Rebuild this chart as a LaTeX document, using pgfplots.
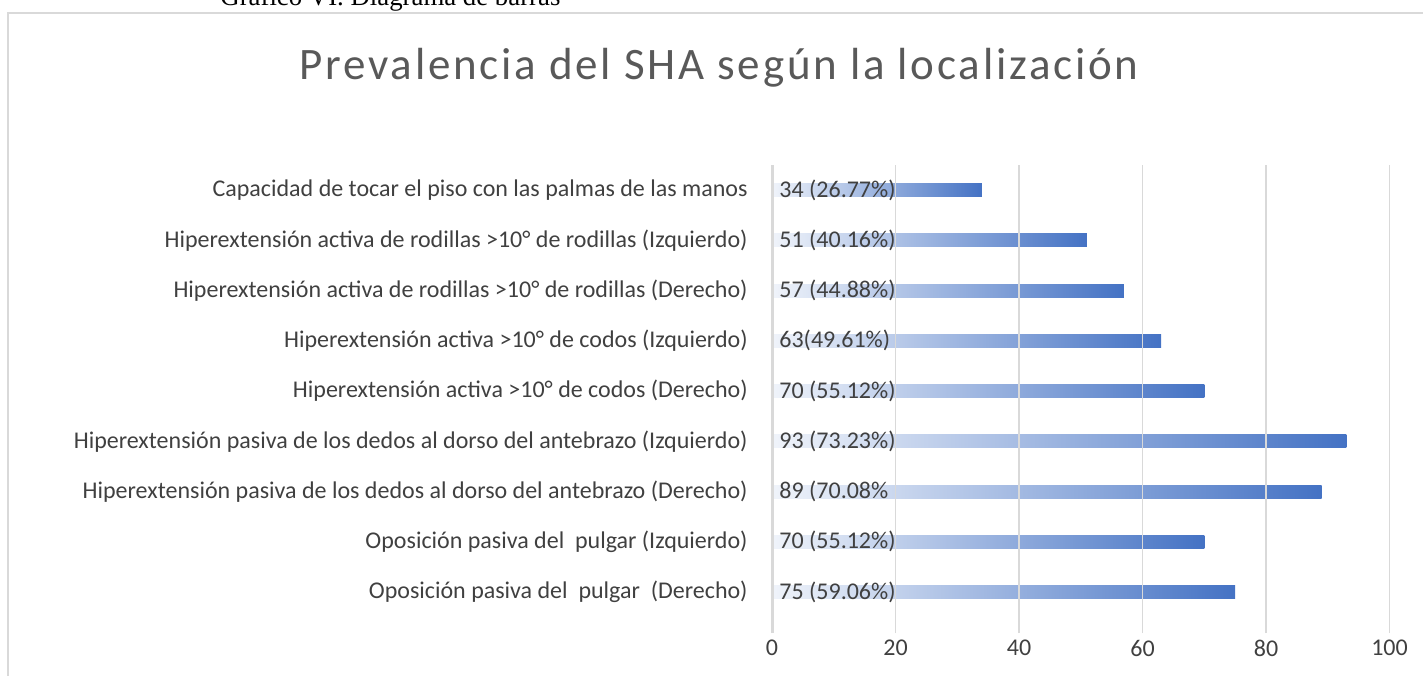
\documentclass[border=0pt]{standalone}
\usepackage{pgfplots}
\pgfplotsset{compat=1.18}
\usepackage{fontspec}
\setmainfont{Carlito}
\newfontfamily\seriffont{Liberation Serif}
\definecolor{barblue}{HTML}{4472C4}
\definecolor{txt}{HTML}{404040}
\definecolor{ttl}{HTML}{595959}
\definecolor{grd}{HTML}{D9D9D9}
\begin{document}
\begin{tikzpicture}[x=0.5pt,y=0.5pt]
\useasboundingbox (0,0) rectangle (1423,675);
\draw[grd, line width=1pt] (8,-20) -- (8,662) -- (1440,662);
\node[font=\seriffont\fontsize{13.4}{14}\selectfont, anchor=base west, inner sep=0] at (220,669) {Gráfico VI. Diagrama de barras};
\node[ttl, font=\fontsize{22.5}{24}\selectfont\addfontfeatures{LetterSpace=6.2}] at (719,607) {Prevalencia del SHA según la localización};
\begin{axis}[
  at={(386pt,21pt)}, anchor=south west,
  scale only axis, width=308.75pt, height=234pt,
  xmin=0, xmax=100, ymin=-0.816, ymax=8.5,
  clip=false, axis on top,
  axis line style={draw=none},
  xtick={0,20,40,60,80,100},
  xmajorgrids, grid style={grd, line width=0.75pt},
  major tick length=0pt,
  ytick={0,1,2,3,4,5,6,7,8},
  yticklabels={
    Oposición pasiva del\ \ pulgar\ \ (Derecho),
    Oposición pasiva del\ \ pulgar (Izquierdo),
    Hiperextensión pasiva de los dedos al dorso del antebrazo (Derecho),
    Hiperextensión pasiva de los dedos al dorso del antebrazo (Izquierdo),
    Hiperextensión activa >10° de codos (Derecho),
    Hiperextensión activa >10° de codos (Izquierdo),
    Hiperextensión activa de rodillas >10° de rodillas (Derecho),
    Hiperextensión activa de rodillas >10° de rodillas (Izquierdo),
    Capacidad de tocar el piso con las palmas de las manos\ },
  tick label style={text=txt, font=\fontsize{12}{13}\selectfont},
  yticklabel style={anchor=east, inner sep=0pt, xshift=-12pt},
  xticklabel style={anchor=center, inner sep=0pt, yshift=-7.5pt},
  /pgf/number format/assume math mode=true,
  shbar/.style={xbar, bar width=6.5pt, bar shift=0pt, draw=none, mark=none,
    left color=barblue!8, middle color=barblue!70, right color=barblue},
]
\addplot[shbar] coordinates {(75,0)};
\addplot[shbar] coordinates {(70,1)};
\addplot[shbar] coordinates {(89,2)};
\addplot[shbar] coordinates {(93,3)};
\addplot[shbar] coordinates {(70,4)};
\addplot[shbar] coordinates {(63,5)};
\addplot[shbar] coordinates {(57,6)};
\addplot[shbar] coordinates {(51,7)};
\addplot[shbar] coordinates {(34,8)};
\draw[grd, line width=1.5pt] (axis cs:0,-0.816) -- (axis cs:0,8.5);
\addplot[draw=none, mark=none, nodes near coords, point meta=explicit symbolic,
  nodes near coords style={anchor=west, inner sep=0pt, xshift=3.5pt, text=txt, font=\fontsize{12}{13}\selectfont}]
  coordinates {(0,0) [75 (59.06\%)] (0,1) [70 (55.12\%)] (0,2) [89 (70.08\%] (0,3) [93 (73.23\%)] (0,4) [70 (55.12\%)] (0,5) [63(49.61\%)] (0,6) [57 (44.88\%)] (0,7) [51 (40.16\%)] (0,8) [34 (26.77\%)]};
\end{axis}
\end{tikzpicture}
\end{document}
